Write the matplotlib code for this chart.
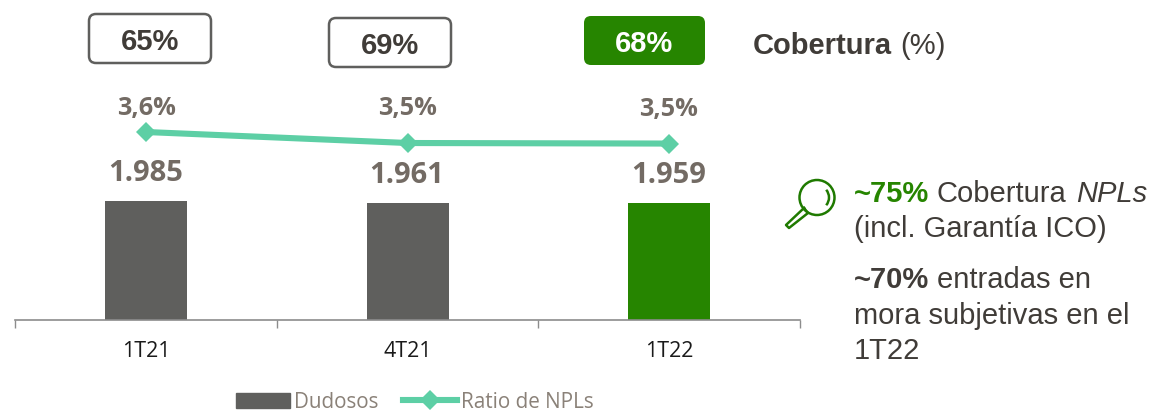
import matplotlib
matplotlib.use("Agg")
import matplotlib.pyplot as plt
from matplotlib.patches import FancyBboxPatch, Circle, Arc, Patch
from matplotlib.lines import Line2D

categories = ["1T21", "4T21", "1T22"]
dudosos = [1985, 1961, 1959]
dudosos_labels = ["1.985", "1.961", "1.959"]
npl_ratio = [3.6, 3.5, 3.495]
npl_labels = ["3,6%", "3,5%", "3,5%"]
coverage_labels = ["65%", "69%", "68%"]

W, H = 1155, 411
GREY, GREEN, TEAL = "#5F5F5D", "#268500", "#5DCFA5"
DARK, TAUPE = "#403C38", "#736B64"
LEGEND_TXT = "#8A8178"
ARIAL = "Liberation Sans"

fig = plt.figure(figsize=(W / 100, H / 100), dpi=100, facecolor="white")
ax = fig.add_axes([15.3 / W, (H - 320) / H, 784.5 / W, 320 / H])
ax.patch.set_alpha(0)
bars = ax.bar(range(3), dudosos, width=82 / 261.5, color=[GREY, GREY, GREEN], label="Dudosos")
ax.set_xlim(-0.5, 2.5)
ax.set_ylim(0, 320 / 0.0597)
ax.set_yticks([])
for s in ("top", "left", "right"):
    ax.spines[s].set_visible(False)
ax.spines["bottom"].set_color("#8C8C8C")
ax.spines["bottom"].set_linewidth(1.2)
ax.set_xticks([-0.5, 0.5, 1.5, 2.5])
ax.set_xticklabels([])
ax.tick_params(axis="x", length=5.5, width=1.0, color="#8C8C8C", direction="out")
ax.set_xticks([0, 1, 2], minor=True)
ax.set_xticklabels(categories, minor=True, fontsize=15.5, family="Open Sans", color="#1A1A1A")
ax.tick_params(axis="x", which="minor", length=0, pad=15)

ax2 = ax.twinx()
ax2.set_ylim(1.891, 1.891 + 320 / 110)
ax2.set_yticks([])
for s in ax2.spines.values():
    s.set_visible(False)
line, = ax2.plot(range(3), npl_ratio, color=TEAL, lw=4.4, marker="D", ms=10,
                 mew=0, solid_capstyle="round", label="Ratio de NPLs")

ov = fig.add_axes([0, 0, 1, 1])
ov.set_xlim(0, W)
ov.set_ylim(H, 0)
ov.axis("off")
ov.patch.set_alpha(0)

for x, y, t in zip([146, 407, 669], [173, 175, 175], dudosos_labels):
    ov.text(x, y, t, ha="center", va="center", fontsize=21, fontweight="bold",
            family="Open Sans", color=TAUPE)
for x, y, t in zip([146.5, 407.5, 669], [108, 108, 109], npl_labels):
    ov.text(x, y, t, ha="center", va="center", fontsize=18.2, fontweight="bold",
            family="Open Sans", color=TAUPE)

boxes = [(89, 14, 122, 49), (329, 18, 122, 49), (584, 16, 121, 49)]
for (x, y, w, h), t, i in zip(boxes, coverage_labels, range(3)):
    filled = i == 2
    ov.add_patch(FancyBboxPatch((x + 6, y + 6), w - 12, h - 12,
                                boxstyle="round,pad=6,rounding_size=7",
                                fc=GREEN if filled else "white",
                                ec=GREEN if filled else GREY, lw=0 if filled else 1.8))
    ov.text(x + w / 2, y + h / 2 + 3, t, ha="center", va="center", fontsize=21,
            fontweight="bold", family=ARIAL, color="white" if filled else DARK)

ov.text(753, 46, "Cobertura", ha="left", va="center", fontsize=21, fontweight="bold",
        family=ARIAL, color=DARK)
ov.text(900, 46, "(%)", ha="left", va="center", fontsize=21, family=ARIAL, color=DARK)

ICON = "#1F7A00"
ov.add_patch(Circle((817, 197.5), 17.5, fc="none", ec=ICON, lw=1.8))
ov.add_patch(Arc((817, 197.5), 24, 24, angle=0, theta1=-40, theta2=40, ec=ICON, lw=1.8))
ov.plot([804, 786, 789, 808, 804], [208, 225, 228, 213, 208], color=ICON, lw=1.8,
        solid_joinstyle="round")

FS = 21
ov.text(854, 193.5, "~75%", ha="left", va="center", fontsize=FS, fontweight="bold", family=ARIAL, color=GREEN)
ov.text(936, 193.5, "Cobertura", ha="left", va="center", fontsize=FS, family=ARIAL, color=DARK)
ov.text(1076, 193.5, "NPLs", ha="left", va="center", fontsize=FS, style="italic", family=ARIAL, color=DARK)
ov.text(854, 229, "(incl. Garantía ICO)", ha="left", va="center", fontsize=FS, family=ARIAL, color=DARK)
ov.text(854, 280, "~70%", ha="left", va="center", fontsize=FS, fontweight="bold", family=ARIAL, color=DARK)
ov.text(937, 280, "entradas en", ha="left", va="center", fontsize=FS, family=ARIAL, color=DARK)
ov.text(854, 315.5, "mora subjetivas en el", ha="left", va="center", fontsize=FS, family=ARIAL, color=DARK)
ov.text(854, 351, "1T22", ha="left", va="center", fontsize=FS, family=ARIAL, color=DARK)

leg = ov.legend(
    handles=[Patch(color=GREY, label="Dudosos"),
             Line2D([0], [0], color=TEAL, lw=4.4, marker="D", ms=10, mew=0, label="Ratio de NPLs")],
    loc="center left", bbox_to_anchor=(236 / W, 1 - 402 / H), ncol=2, frameon=False,
    prop={"family": "Open Sans", "size": 14.9}, handlelength=2.6, handleheight=0.7,
    handletextpad=0.2, columnspacing=1.2, borderaxespad=0, borderpad=0)
for t in leg.get_texts():
    t.set_color(LEGEND_TXT)

fig.savefig("out.png", dpi=100, facecolor="white")
